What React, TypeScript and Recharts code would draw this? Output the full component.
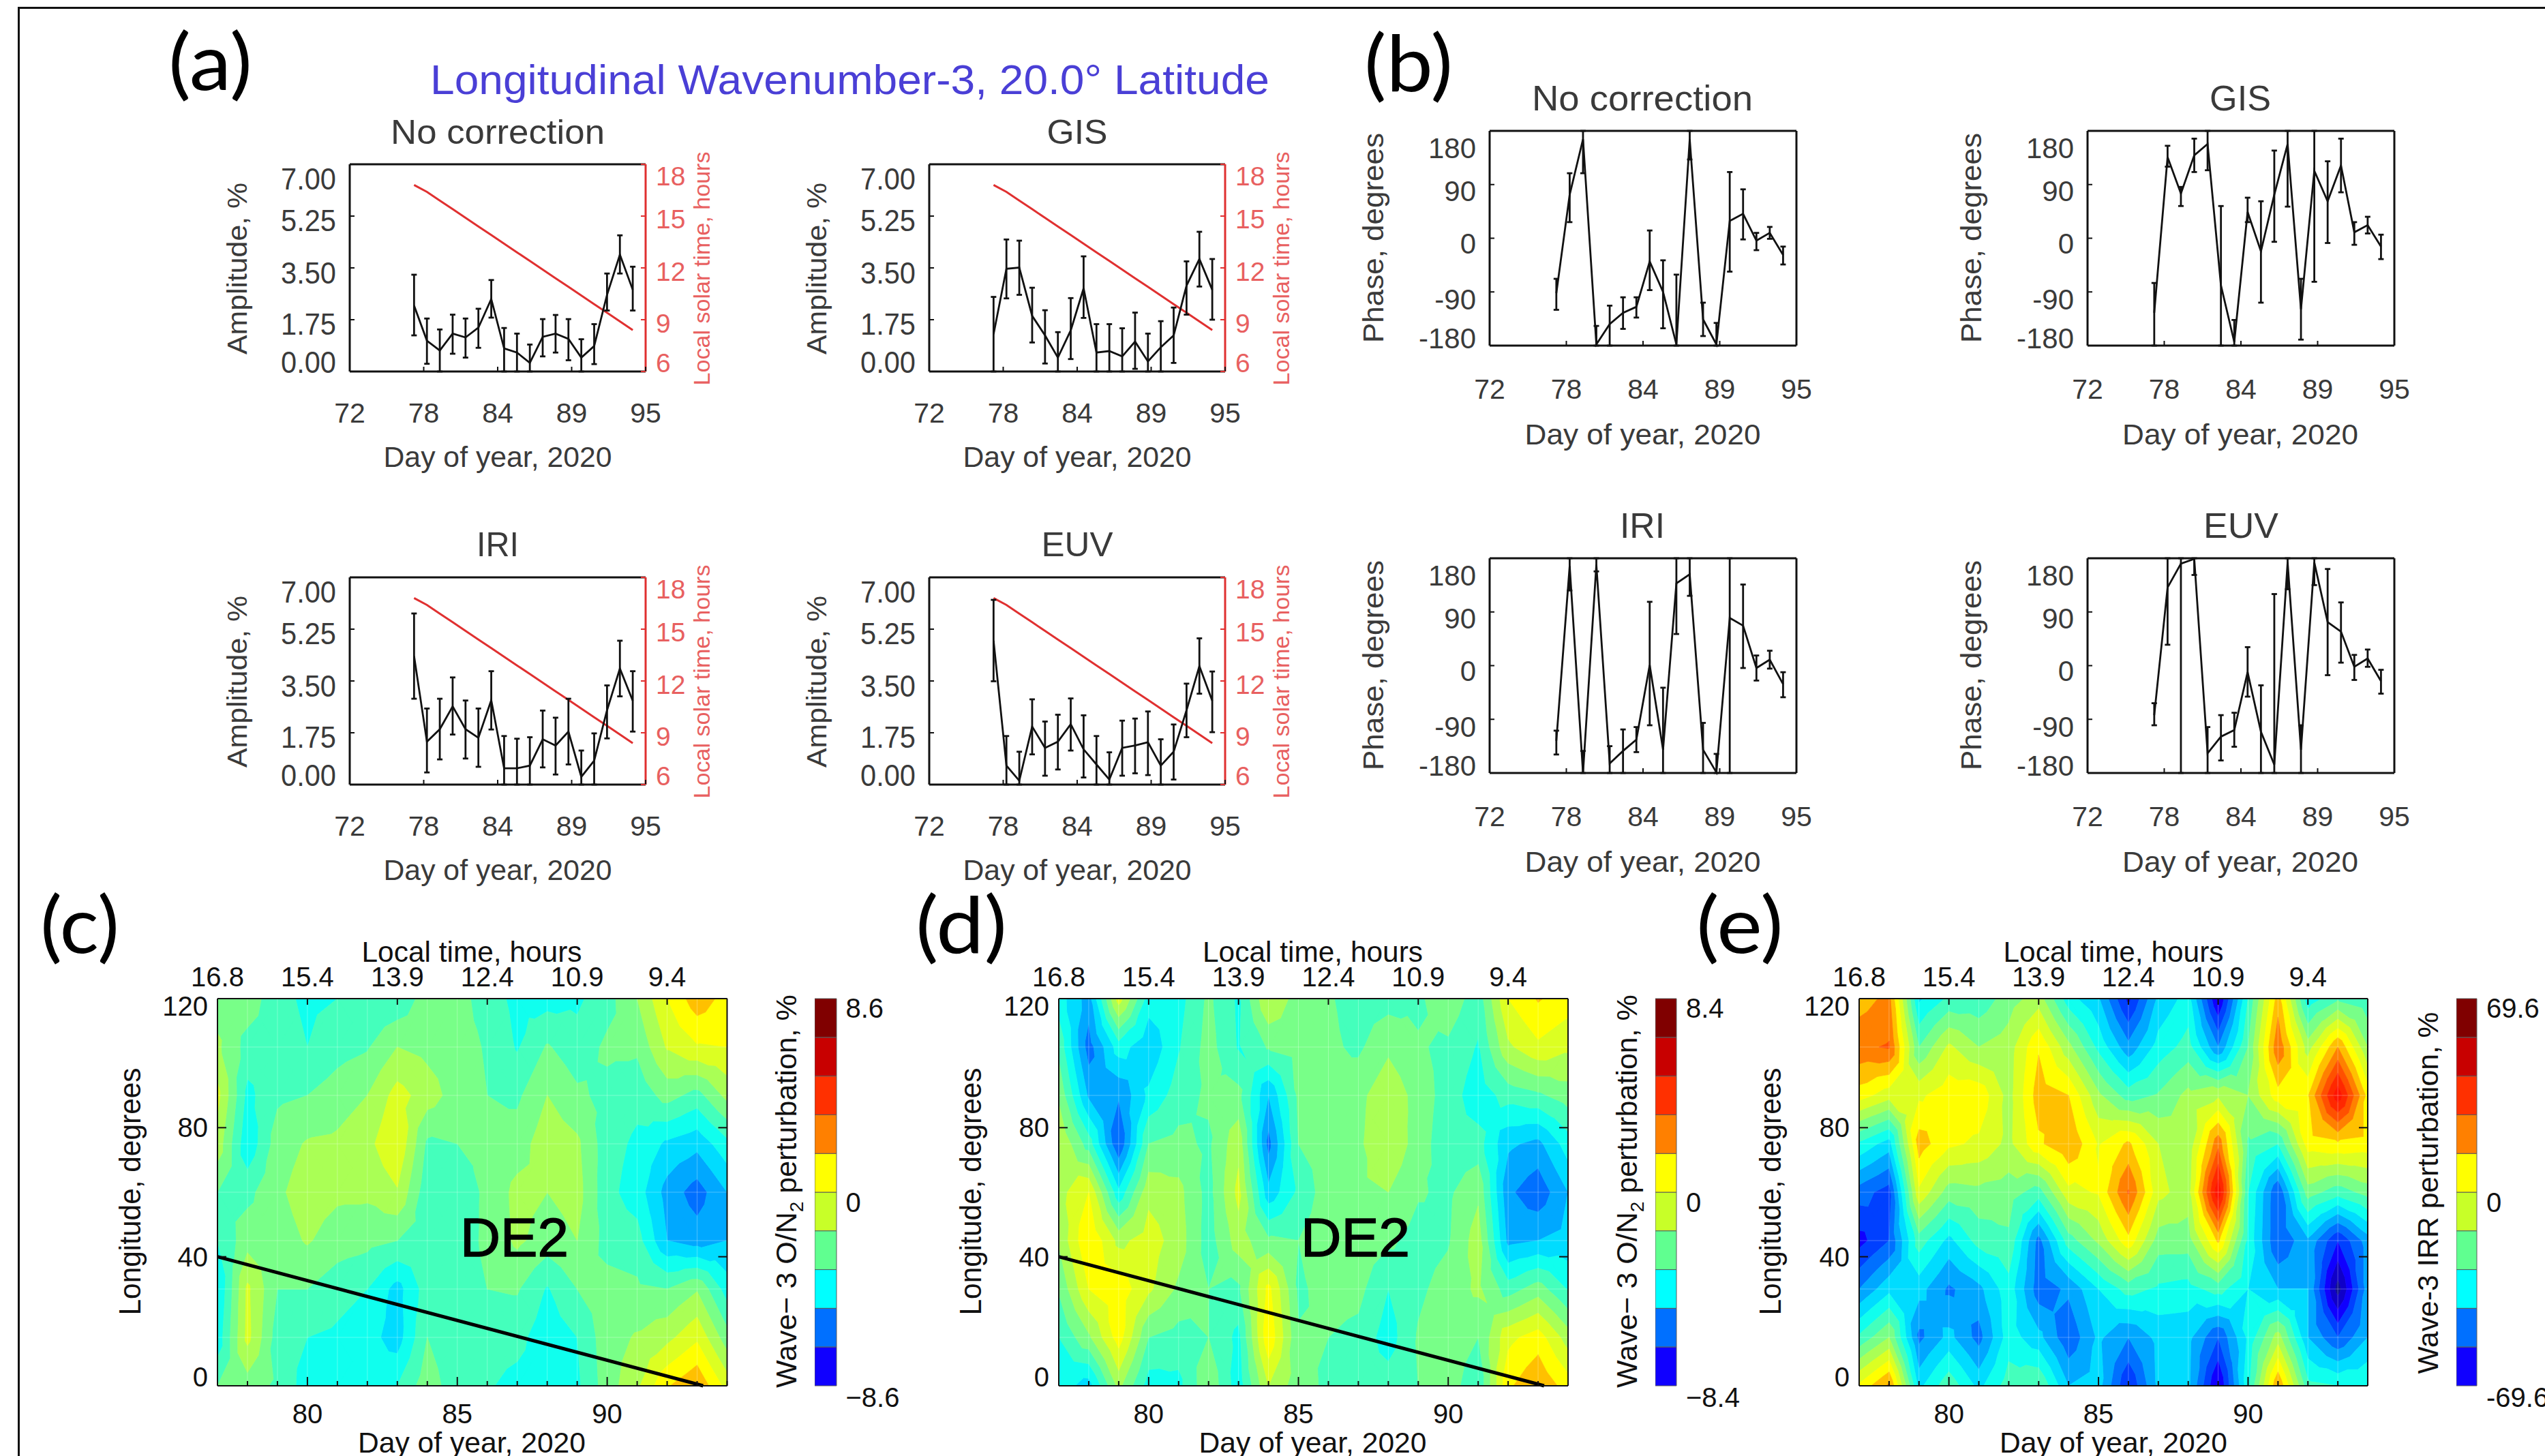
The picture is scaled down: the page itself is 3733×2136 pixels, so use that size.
import React from 'react';
import {
  Bar,
  BarChart,
  CartesianGrid,
  ComposedChart,
  ErrorBar,
  Line,
  ReferenceLine,
  Scatter,
  XAxis,
  YAxis,
} from 'recharts';

const FONT = '"Liberation Sans", Arial, sans-serif';
const INK = '#3a3a3a';
const RED = '#e03030';
const RED_TEXT = '#e86060';

// ---- line panels ----------------------------------------------------------
const days = [77, 78, 79, 80, 81, 82, 83, 84, 85, 86, 87, 88, 89, 90, 91, 92, 93, 94];
const dayTicks = [72, 77.75, 83.5, 89.25, 95];
const dayTickLabels = ['72', '78', '84', '89', '95'];
const amplitudeTicks = [0, 1.75, 3.5, 5.25, 7];
const amplitudeTickLabels = ['0.00', '1.75', '3.50', '5.25', '7.00'];
const solarTimeTicks = [6, 9, 12, 15, 18];
const phaseTicks = [-180, -90, 0, 90, 180];

const solarTime = [16.8, 16.4, 15.9, 15.4, 14.9, 14.4, 13.9, 13.4, 12.9, 12.4, 11.9, 11.4, 10.9, 10.4, 9.9, 9.4, 8.9, 8.4];

const ampNone = [2.23, 1.04, 0.71, 1.28, 1.15, 1.48, 2.45, 0.78, 0.64, 0.29, 1.17, 1.28, 1.1, 0.47, 0.86, 2.59, 3.95, 2.76];
const ampNoneHigh = [3.27, 1.79, 1.42, 1.92, 1.79, 2.12, 3.09, 1.47, 1.28, 0.91, 1.77, 1.91, 1.77, 1.09, 1.6, 3.31, 4.6, 3.54];
const ampNoneLow = [1.22, 0.26, 0, 0.6, 0.47, 0.8, 1.82, 0, 0, 0, 0.51, 0.64, 0.38, 0, 0.25, 2.06, 3.31, 2.06];

const ampGis = [1.26, 3.47, 3.51, 1.88, 1.22, 0.47, 1.39, 2.81, 0.64, 0.69, 0.51, 1.01, 0.34, 0.82, 1.22, 2.9, 3.8, 2.76];
const ampGisHigh = [2.52, 4.46, 4.42, 2.83, 2.07, 1.33, 2.48, 3.89, 1.6, 1.6, 1.46, 1.99, 1.28, 1.7, 2.16, 3.72, 4.72, 3.8];
const ampGisLow = [0, 2.47, 2.59, 0.98, 0.27, 0, 0.42, 1.81, 0, 0, 0, 0.09, 0, 0, 0.29, 1.92, 2.87, 1.75];

const ampIri = [4.34, 1.45, 1.87, 2.64, 1.87, 1.58, 2.85, 0.55, 0.55, 0.64, 1.53, 1.32, 1.79, 0.26, 0.81, 2.51, 3.92, 2.83];
const ampIriHigh = [5.78, 2.57, 2.9, 3.62, 2.84, 2.57, 3.83, 1.64, 1.55, 1.6, 2.5, 2.26, 2.9, 1.15, 1.73, 3.35, 4.86, 3.83];
const ampIriLow = [2.9, 0.41, 0.85, 1.69, 0.88, 0.6, 1.86, 0, 0, 0, 0.58, 0.34, 0.68, 0, 0, 1.56, 2.98, 1.79];

const ampEuv = [4.86, 0.64, 0.13, 1.96, 1.24, 1.45, 2.04, 1.19, 0.68, 0.17, 1.24, 1.32, 1.43, 0.64, 1.11, 2.51, 4.0, 2.83];
const ampEuvHigh = [6.24, 1.64, 1.11, 2.88, 2.13, 2.36, 2.91, 2.34, 1.64, 1.09, 2.16, 2.23, 2.47, 1.53, 2.03, 3.41, 4.94, 3.82];
const ampEuvLow = [3.49, 0, 0, 1.02, 0.3, 0.51, 1.15, 0.24, 0, 0, 0.3, 0.38, 0.32, 0, 0.17, 1.6, 3.07, 1.77];

const phaseNone = [-92, 73, 166, -178, -144, -125, -115, -39, -90, -178, 166, -136, -178, 29, 41, -4, 9, -28];
const phaseNoneHigh = [-68, 109, 180, -147, -113, -99, -99, 13, -37, -61, 180, -108, -142, 111, 82, 9, 19, -14];
const phaseNoneLow = [-120, 27, 109, -180, -180, -152, -133, -87, -151, -180, 132, -164, -180, -56, -2, -20, -1, -44];

const phaseGis = [-125, 136, 75, 139, 158, -79, -174, 44, -22, 73, 158, -119, 113, 62, 122, 10, 22, -14];
const phaseGisHigh = [-75, 155, 86, 167, 180, 54, -137, 68, 62, 147, 180, -68, 180, 129, 167, 27, 36, 6];
const phaseGisLow = [-180, 120, 54, 111, 114, -180, -180, 27, -108, -6, 53, -170, -73, -8, 77, -11, 8, -35];

const phaseIri = [-126, 167, -180, 169, -164, -143, -124, 1, -141, 138, 153, -141, -179, 80, 67, -4, 10, -31];
const phaseIriHigh = [-109, 180, -143, 180, -135, -107, -103, 107, -37, 180, 180, -96, -148, 180, 136, 17, 25, -11];
const phaseIriLow = [-149, 126, -180, 158, -180, -180, -145, -100, -180, 53, 117, -180, -180, -180, -4, -25, -5, -53];

const phaseEuv = [-83, 131, 171, 179, -147, -119, -108, -11, -111, -166, 173, -141, 173, 73, 57, -2, 12, -26];
const phaseEuvHigh = [-63, 180, 180, 180, -103, -83, -79, 31, -33, 120, 180, -100, 180, 162, 106, 18, 27, -7];
const phaseEuvLow = [-100, 35, -180, 152, -180, -159, -136, -52, -180, -180, 128, -180, 135, -16, 5, -24, -2, -47];

// ---- contour panels -------------------------------------------------------
// Values are read off the fill colours, in contour steps (one step = contourStep %).
// One row per longitude (top row = 120), one column per day 77..94.
const gridLongitudes = [120, 105, 90, 75, 60, 45, 30, 15, 0];
const lonTicks = [0, 40, 80, 120];
const localTimeDays = [77, 80, 83, 86, 89, 92];
const localTimeLabels = ['16.8', '15.4', '13.9', '12.4', '10.9', '9.4'];

const oN2GridC = [
  [-1.5, -1.4, -2.7, -3.2, -3.0, -2.9, -2.8, -1.5, -1.6, -2.5, -3.3, -3.4, -3.2, -2.4, -1.0, 1.0, 2.6, 1.6],
  [-0.8, -2.4, -2.5, -3.0, -2.4, -2.1, -1.0, -1.3, -1.6, -2.1, -3.1, -1.9, -2.6, -1.8, -1.8, 0.1, 0.9, 1.0],
  [0.3, -3.3, -2.2, -2.0, -1.5, -1.0, 0.4, -0.5, -1.5, -2.0, -2.2, -1.0, -1.8, -2.3, -2.7, -1.6, -2.4, -0.7],
  [-0.4, -3.8, -1.5, -0.9, -0.8, -0.3, 0.9, -2.2, -2.0, -1.7, -1.5, -0.4, -0.8, -2.6, -3.2, -4.2, -4.7, -3.3],
  [-2.0, -2.3, -1.2, -0.5, -0.8, -0.8, -0.1, -2.7, -2.6, -1.8, -0.7, -1.0, -0.6, -2.7, -3.5, -5.4, -6.5, -5.0],
  [-3.0, -1.4, -1.5, -0.9, -1.5, -1.7, -2.0, -2.6, -2.5, -1.8, -0.8, -1.5, -1.0, -2.4, -2.6, -5.0, -5.5, -5.0],
  [-4.1, 0.2, -2.0, -2.0, -2.6, -3.0, -4.4, -2.5, -2.5, -2.0, -1.9, -3.1, -2.0, -1.6, -1.8, -2.0, -1.1, -3.5],
  [-3.7, 0.3, -2.5, -3.0, -3.2, -3.6, -4.5, -2.0, -2.9, -2.6, -2.7, -3.6, -3.0, -1.4, -0.9, -0.3, 0.8, -1.6],
  [-2.0, -1.5, -2.2, -3.5, -3.4, -3.5, -3.0, -1.4, -2.7, -2.9, -3.3, -3.5, -3.2, -1.5, -0.2, 1.9, 2.9, 0.6],
];

const oN2GridD = [
  [-3.5, -5.5, 0.5, -3.5, -3.4, -1.8, -3.2, 0.0, -1.5, -1.9, -2.4, -2.4, -2.2, -1.3, -2.6, 1.0, 2.1, 1.5],
  [-2.3, -6.5, -3.5, -4.8, -3.1, -1.6, -3.1, -1.9, -1.6, -1.8, -2.2, -1.2, -1.9, -2.2, -3.1, -0.2, 0.8, 0.2],
  [-1.2, -5.2, -5.9, -3.8, -2.5, -1.8, -1.7, -5.0, -1.8, -1.7, -1.3, -0.3, -1.4, -2.5, -3.6, -2.6, -2.2, -1.5],
  [0.0, -2.5, -7.0, -2.0, -1.7, -2.2, -0.3, -6.4, -2.0, -1.6, -1.2, -0.1, -1.5, -2.7, -2.6, -4.8, -5.3, -3.5],
  [-0.4, 1.0, -3.8, -0.3, -0.7, -2.4, 0.3, -4.7, -2.8, -1.4, -1.2, -1.0, -1.9, -2.2, -1.2, -5.8, -6.7, -5.0],
  [-0.9, 2.0, -0.3, 0.5, -0.5, -2.5, -0.5, -1.8, -2.0, -1.3, -1.5, -1.8, -2.4, -2.1, -0.5, -5.3, -5.0, -4.7],
  [-1.9, 1.0, 1.6, 0.2, -1.2, -2.0, -2.2, 1.3, -2.2, -1.6, -1.7, -3.0, -2.2, -1.6, -0.8, -2.5, -1.5, -3.1],
  [-3.0, -1.2, 1.5, -2.0, -2.4, -2.0, -3.3, 1.8, -1.9, -2.0, -2.3, -3.5, -1.9, -1.3, -2.0, 0.7, 1.5, -0.5],
  [-3.4, -4.5, -0.7, -3.5, -3.3, -1.2, -3.6, 0.0, -1.6, -2.2, -2.5, -2.5, -2.0, -1.4, -2.9, 1.8, 2.9, 1.5],
];

const irrGridE = [
  [2.5, 3.3, -4.2, -2.8, -2.7, -1.5, -0.5, -3.6, -4.9, -8.3, -4.8, -3.6, -9.2, -3.0, 2.5, -3.7, -2.2, -2.8],
  [3.8, 4.1, -2.0, 0.2, -1.0, -0.5, 1.9, -0.7, -3.3, -5.7, -3.6, -2.6, -6.0, -2.0, 3.8, -0.5, 3.0, -1.0],
  [1.5, 0.4, 0.8, 1.6, 1.7, -0.4, 2.5, 2.0, -0.8, -2.5, -1.9, -0.7, -0.2, -1.0, 1.6, 1.9, 6.7, 1.6],
  [-3.2, -4.5, 2.5, 1.2, 0.8, -0.3, 1.8, 2.9, 0.9, 2.2, 0.0, -0.8, 3.7, -2.2, -3.0, 1.5, 1.8, 1.6],
  [-6.5, -7.5, 0.8, -1.5, -1.3, -1.5, -2.5, 0.7, 1.1, 4.1, 0.3, -0.5, 6.8, -3.0, -7.0, -1.5, -2.6, -1.6],
  [-8.4, -7.0, -2.5, -4.3, -2.6, -2.2, -6.4, -2.5, -0.8, 1.7, -1.5, -1.5, 2.2, -3.3, -7.0, -5.2, -8.0, -5.5],
  [-6.0, -4.3, -4.6, -6.2, -5.3, -3.4, -6.6, -5.8, -4.0, -2.6, -3.2, -3.4, -2.6, -4.0, -5.0, -5.0, -10.5, -5.5],
  [-2.8, -1.0, -6.3, -4.7, -6.4, -3.5, -4.7, -6.8, -4.8, -6.0, -4.7, -4.7, -7.0, -3.8, -0.5, -5.0, -7.0, -5.0],
  [1.2, 3.2, -4.3, -2.3, -4.3, -2.5, -2.0, -5.0, -4.6, -8.0, -4.8, -4.8, -9.2, -3.3, 3.0, -2.7, -3.0, -3.0],
];

// Fill colour of every contour step, lowest first; the first band starts at -11 steps.
const lowestBand = -11;
const bandColors = [
  '#101090', '#1000c8', '#1000ff', '#0040ff', '#0070ff', '#00a8ff', '#00dcff', '#10ffee', '#44ffbc',
  '#78ff88', '#aaff55', '#dcff22', '#ffff00', '#ffc000', '#ff8000', '#ff5000', '#ff2800', '#ff1400',
];

const colorbarBelowZero = ['#c8ff28', '#60ff90', '#00ffff', '#0070ff', '#1000ff'];
const colorbarAboveZero = ['#ffff00', '#ff8000', '#ff3000', '#c80000', '#800000'];

// ---- panel layout ---------------------------------------------------------
const amplitudePanels = [
  { title: 'No correction', x: 513, y: 241, values: ampNone, high: ampNoneHigh, low: ampNoneLow },
  { title: 'GIS', x: 1363, y: 241, values: ampGis, high: ampGisHigh, low: ampGisLow },
  { title: 'IRI', x: 513, y: 846.5, values: ampIri, high: ampIriHigh, low: ampIriLow },
  { title: 'EUV', x: 1363, y: 846.5, values: ampEuv, high: ampEuvHigh, low: ampEuvLow },
];

const phasePanels = [
  { title: 'No correction', x: 2184.5, y: 191.5, values: phaseNone, high: phaseNoneHigh, low: phaseNoneLow },
  { title: 'GIS', x: 3062, y: 191.5, values: phaseGis, high: phaseGisHigh, low: phaseGisLow },
  { title: 'IRI', x: 2184.5, y: 819, values: phaseIri, high: phaseIriHigh, low: phaseIriLow },
  { title: 'EUV', x: 3062, y: 819, values: phaseEuv, high: phaseEuvHigh, low: phaseEuvLow },
];

const contourPanels = [
  { grid: oN2GridC, x: 319, width: 747.5, scale: 8.6, bottomLabel: '\u22128.6', hasTrend: true, barX: 1195, barWidth: 31.5 },
  { grid: oN2GridD, x: 1552.6, width: 747, scale: 8.4, bottomLabel: '\u22128.4', hasTrend: true, barX: 2428, barWidth: 31 },
  { grid: irrGridE, x: 2727, width: 746, scale: 69.6, bottomLabel: '-69.6', hasTrend: false, barX: 3603, barWidth: 30 },
];
const CONTOUR_TOP = 1465;
const CONTOUR_HEIGHT = 568;

// ---- contour geometry -----------------------------------------------------
type Corner = { day: number; lon: number; v: number };

function clipAt(poly: Corner[], level: number, keepAbove: boolean): Corner[] {
  const out: Corner[] = [];
  poly.forEach((a, i) => {
    const b = poly[(i + 1) % poly.length];
    const aIn = keepAbove ? a.v >= level : a.v <= level;
    const bIn = keepAbove ? b.v >= level : b.v <= level;
    if (aIn) out.push(a);
    if (aIn !== bIn) {
      const t = (level - a.v) / (b.v - a.v);
      out.push({ day: a.day + t * (b.day - a.day), lon: a.lon + t * (b.lon - a.lon), v: level });
    }
  });
  return out;
}

// Splits every grid cell in four triangles round its centre and keeps the part of each inside the band.
function bandPolygons(grid: number[][], lo: number, hi: number): Corner[][] {
  const polys: Corner[][] = [];
  for (let r = 0; r < gridLongitudes.length - 1; r++) {
    for (let c = 0; c < days.length - 1; c++) {
      const tl = { day: days[c], lon: gridLongitudes[r], v: grid[r][c] };
      const tr = { day: days[c + 1], lon: gridLongitudes[r], v: grid[r][c + 1] };
      const bl = { day: days[c], lon: gridLongitudes[r + 1], v: grid[r + 1][c] };
      const br = { day: days[c + 1], lon: gridLongitudes[r + 1], v: grid[r + 1][c + 1] };
      const mid = {
        day: (tl.day + tr.day) / 2,
        lon: (tl.lon + bl.lon) / 2,
        v: (tl.v + tr.v + bl.v + br.v) / 4,
      };
      [[tl, tr, mid], [tr, br, mid], [br, bl, mid], [bl, tl, mid]].forEach((tri) => {
        const clipped = clipAt(clipAt(tri, lo, true), hi, false);
        if (clipped.length > 2) polys.push(clipped);
      });
    }
  }
  return polys;
}

function polygonsPath(points: { x: number; y: number }[], polys: Corner[][]): string {
  let d = '';
  let at = 0;
  polys.forEach((poly) => {
    const part = points.slice(at, at + poly.length);
    d += `M${part.map((p) => `${p.x.toFixed(1)},${p.y.toFixed(1)}`).join('L')}Z`;
    at += poly.length;
  });
  return d;
}

function ContourPanel({ panel }: { panel: (typeof contourPanels)[number] }) {
  const left = 110;
  const top = 70;
  const right = 12;
  const bottom = 62;
  const bands = bandColors.map((color, i) => ({
    color,
    polys: bandPolygons(panel.grid, lowestBand + i, lowestBand + i + 1),
  }));
  return (
    <div style={{ position: 'absolute', left: panel.x - left, top: CONTOUR_TOP - top }}>
      <ComposedChart
        width={panel.width + left + right}
        height={CONTOUR_HEIGHT + top + bottom}
        data={days.map((day) => ({ day, lon: 0 }))}
        margin={{ top: 0, right: 0, bottom: 0, left: 0 }}
      >
        {bands
          .filter((band) => band.polys.length > 0)
          .map((band) => (
            <Scatter
              key={band.color}
              data={band.polys.flat()}
              dataKey="lon"
              zIndex={50}
              isAnimationActive={false}
              shape={() => null}
              lineType="joint"
              line={(p: any) => (
                <path d={polygonsPath(p.points, band.polys)} fill={band.color} stroke={band.color} strokeWidth={0.8} />
              )}
            />
          ))}
        <CartesianGrid
          zIndex={60}
          stroke="#ffffff"
          strokeOpacity={0.3}
          verticalValues={days}
          horizontalValues={gridLongitudes}
        />
        {panel.hasTrend && (
          <ReferenceLine
            segment={[
              { x: 77, y: 40 },
              { x: 93.2, y: 0 },
            ]}
            stroke="#000"
            strokeWidth={5}
          />
        )}
        <XAxis
          dataKey="day"
          type="number"
          domain={[77, 94]}
          ticks={days}
          interval={0}
          height={bottom}
          tickLine={false}
          tickSize={0}
          tickMargin={0}
          axisLine={{ stroke: '#111', strokeWidth: 2 }}
          tick={(p: any) => {
            const major = p.payload.value % 5 === 0;
            return (
              <g>
                <line x1={p.x} x2={p.x} y1={p.y} y2={p.y - (major ? 13 : 7)} stroke="#111" strokeWidth={2} />
                {major && (
                  <text x={p.x} y={p.y + 55} textAnchor="middle" fontSize={40} fontFamily={FONT} fill="#111">
                    {p.payload.value}
                  </text>
                )}
              </g>
            );
          }}
        />
        <XAxis
          xAxisId="top"
          dataKey="day"
          orientation="top"
          type="number"
          domain={[77, 94]}
          ticks={localTimeDays}
          interval={0}
          height={top}
          tickLine={false}
          tickSize={0}
          tickMargin={0}
          axisLine={{ stroke: '#111', strokeWidth: 2 }}
          tick={(p: any) => (
            <g>
              <line x1={p.x} x2={p.x} y1={p.y} y2={p.y + 9} stroke="#111" strokeWidth={2} />
              <text x={p.x} y={p.y - 18} textAnchor="middle" fontSize={40} fontFamily={FONT} fill="#111">
                {localTimeLabels[p.index]}
              </text>
            </g>
          )}
        />
        <YAxis
          dataKey="lon"
          type="number"
          domain={[0, 120]}
          ticks={lonTicks}
          interval={0}
          width={left}
          tickLine={false}
          tickSize={0}
          tickMargin={0}
          axisLine={{ stroke: '#111', strokeWidth: 2 }}
          tick={(p: any) => (
            <g>
              <line x1={p.x} x2={p.x + 13} y1={p.y} y2={p.y} stroke="#111" strokeWidth={2} />
              <text
                x={p.x - 14}
                y={p.y + [-13, 0, 0, 11][p.index] + 14}
                textAnchor="end"
                fontSize={40}
                fontFamily={FONT}
                fill="#111"
              >
                {p.payload.value}
              </text>
            </g>
          )}
        />
        <YAxis
          yAxisId="right"
          dataKey="lon"
          orientation="right"
          type="number"
          domain={[0, 120]}
          ticks={lonTicks}
          interval={0}
          width={right}
          tickLine={false}
          tickSize={0}
          tickMargin={0}
          axisLine={{ stroke: '#111', strokeWidth: 2 }}
          tick={(p: any) => <line x1={p.x} x2={p.x - 13} y1={p.y} y2={p.y} stroke="#111" strokeWidth={2} />}
        />
      </ComposedChart>
    </div>
  );
}

function Colorbar({ panel }: { panel: (typeof contourPanels)[number] }) {
  const right = 140;
  const pad = 12;
  const size = panel.scale / 5;
  const row: Record<string, number | string> = { name: 'scale' };
  colorbarBelowZero.forEach((_, i) => {
    row[`below${i}`] = -size;
    row[`above${i}`] = size;
  });
  const labels = [panel.bottomLabel, '0', String(panel.scale)];
  return (
    <div style={{ position: 'absolute', left: panel.barX, top: CONTOUR_TOP - pad }}>
      <BarChart
        width={panel.barWidth + right}
        height={CONTOUR_HEIGHT + 50 + pad}
        data={[row]}
        stackOffset="sign"
        barCategoryGap={0}
        margin={{ top: pad, right: 0, bottom: 50, left: 0 }}
      >
        <XAxis dataKey="name" hide />
        <YAxis
          orientation="right"
          type="number"
          domain={[-panel.scale, panel.scale]}
          ticks={[-panel.scale, 0, panel.scale]}
          interval={0}
          width={right}
          axisLine={false}
          tickLine={false}
          tickSize={0}
          tickMargin={0}
          tick={(p: any) => (
            <text
              x={p.x + 14}
              y={p.y + [17, 15, 14][p.index] + 14}
              textAnchor="start"
              fontSize={40}
              fontFamily={FONT}
              fill="#111"
            >
              {labels[p.index]}
            </text>
          )}
        />
        {colorbarBelowZero.map((color, i) => (
          <Bar key={color} dataKey={`below${i}`} stackId="scale" fill={color} stroke="#5a5a5a" strokeWidth={1} isAnimationActive={false} />
        ))}
        {colorbarAboveZero.map((color, i) => (
          <Bar key={color} dataKey={`above${i}`} stackId="scale" fill={color} stroke="#5a5a5a" strokeWidth={1} isAnimationActive={false} />
        ))}
      </BarChart>
    </div>
  );
}

// ---- line charts ----------------------------------------------------------
function toRows(values: number[], high: number[], low: number[]) {
  return days.map((day, i) => ({
    day,
    value: values[i],
    err: [values[i] - low[i], high[i] - values[i]],
    lst: solarTime[i],
  }));
}

function LeftTick(p: any) {
  return (
    <g>
      <line x1={p.x} x2={p.x + 7} y1={p.y} y2={p.y} stroke="#111" strokeWidth={2} />
      <text
        x={p.x - 20}
        y={p.y + p.nudge[p.index] + 16}
        textAnchor="end"
        fontSize={p.size}
        fontFamily={FONT}
        fill={INK}
        textLength={p.squeeze}
        lengthAdjust="spacingAndGlyphs"
      >
        {p.labels ? p.labels[p.index] : p.payload.value}
      </text>
    </g>
  );
}

function BottomTick(p: any) {
  return (
    <g>
      <line x1={p.x} x2={p.x} y1={p.y} y2={p.y - 7} stroke="#111" strokeWidth={2} />
      <text x={p.x} y={p.y + p.drop} textAnchor="middle" fontSize={41} fontFamily={FONT} fill={INK}>
        {dayTickLabels[p.index]}
      </text>
    </g>
  );
}

function TopTick(p: any) {
  return <line x1={p.x} x2={p.x} y1={p.y} y2={p.y + 7} stroke="#111" strokeWidth={2} />;
}

function AmplitudeChart({ panel }: { panel: (typeof amplitudePanels)[number] }) {
  const left = 110;
  const right = 70;
  const top = 10;
  const bottom = 90;
  const width = 434;
  const height = 304;
  return (
    <div style={{ position: 'absolute', left: panel.x - left, top: panel.y - top }}>
      <ComposedChart
        width={width + left + right}
        height={height + top + bottom}
        data={toRows(panel.values, panel.high, panel.low)}
        margin={{ top: 0, right: 0, bottom: 0, left: 0 }}
      >
        <XAxis
          dataKey="day"
          type="number"
          domain={[72, 95]}
          ticks={dayTicks}
          interval={0}
          height={bottom}
          tickLine={false}
          tickSize={0}
          tickMargin={0}
          axisLine={{ stroke: '#111', strokeWidth: 3 }}
          tick={(p: any) => <BottomTick {...p} drop={75} />}
        />
        <XAxis
          xAxisId="top"
          orientation="top"
          type="number"
          domain={[72, 95]}
          ticks={dayTicks}
          interval={0}
          height={top}
          tickLine={false}
          tickSize={0}
          tickMargin={0}
          axisLine={{ stroke: '#111', strokeWidth: 3 }}
          tick={(p: any) => <TopTick {...p} />}
        />
        <YAxis
          yAxisId="amplitude"
          type="number"
          domain={[0, 7]}
          ticks={amplitudeTicks}
          interval={0}
          width={left}
          tickLine={false}
          tickSize={0}
          tickMargin={0}
          axisLine={{ stroke: '#111', strokeWidth: 3 }}
          tick={(p: any) => (
            <LeftTick {...p} size={45} squeeze={81} labels={amplitudeTickLabels} nudge={[-14, 6, 7, 6, 21]} />
          )}
        />
        <YAxis
          yAxisId="lst"
          orientation="right"
          type="number"
          domain={[6, 18]}
          ticks={solarTimeTicks}
          interval={0}
          width={right}
          tickLine={false}
          tickSize={0}
          tickMargin={0}
          axisLine={{ stroke: RED, strokeWidth: 3 }}
          tick={(p: any) => (
            <g>
              <line x1={p.x} x2={p.x - 7} y1={p.y} y2={p.y} stroke={RED} strokeWidth={2} />
              <text
                x={p.x + 15}
                y={p.y + [-13, 5, 5, 4, 17][p.index] + 14}
                textAnchor="start"
                fontSize={39}
                fontFamily={FONT}
                fill={RED_TEXT}
              >
                {p.payload.value}
              </text>
            </g>
          )}
        />
        <Line
          yAxisId="lst"
          dataKey="lst"
          stroke={RED}
          strokeWidth={3}
          dot={false}
          isAnimationActive={false}
        />
        <Line
          yAxisId="amplitude"
          dataKey="value"
          stroke="#111"
          strokeWidth={2.8}
          dot={false}
          isAnimationActive={false}
        >
          <ErrorBar dataKey="err" width={4} stroke="#111" strokeWidth={2.8} isAnimationActive={false} />
        </Line>
      </ComposedChart>
    </div>
  );
}

function PhaseChart({ panel }: { panel: (typeof phasePanels)[number] }) {
  const left = 110;
  const right = 50;
  const top = 10;
  const bottom = 90;
  const width = 450;
  const height = 315;
  return (
    <div style={{ position: 'absolute', left: panel.x - left, top: panel.y - top }}>
      <ComposedChart
        width={width + left + right}
        height={height + top + bottom}
        data={toRows(panel.values, panel.high, panel.low)}
        margin={{ top: 0, right: 0, bottom: 0, left: 0 }}
      >
        <XAxis
          dataKey="day"
          type="number"
          domain={[72, 95]}
          ticks={dayTicks}
          interval={0}
          height={bottom}
          tickLine={false}
          tickSize={0}
          tickMargin={0}
          axisLine={{ stroke: '#111', strokeWidth: 3 }}
          tick={(p: any) => <BottomTick {...p} drop={78} />}
        />
        <XAxis
          xAxisId="top"
          orientation="top"
          type="number"
          domain={[72, 95]}
          ticks={dayTicks}
          interval={0}
          height={top}
          tickLine={false}
          tickSize={0}
          tickMargin={0}
          axisLine={{ stroke: '#111', strokeWidth: 3 }}
          tick={(p: any) => <TopTick {...p} />}
        />
        <YAxis
          yAxisId="phase"
          type="number"
          domain={[-180, 180]}
          ticks={phaseTicks}
          interval={0}
          width={left}
          tickLine={false}
          tickSize={0}
          tickMargin={0}
          axisLine={{ stroke: '#111', strokeWidth: 3 }}
          tick={(p: any) => <LeftTick {...p} size={42} nudge={[-12, 10, 6, 8, 24]} />}
        />
        <YAxis
          yAxisId="phaseRight"
          orientation="right"
          type="number"
          domain={[-180, 180]}
          ticks={phaseTicks}
          interval={0}
          width={right}
          tickLine={false}
          tickSize={0}
          tickMargin={0}
          axisLine={{ stroke: '#111', strokeWidth: 3 }}
          tick={(p: any) => <line x1={p.x} x2={p.x - 7} y1={p.y} y2={p.y} stroke="#111" strokeWidth={2} />}
        />
        <Line
          yAxisId="phase"
          dataKey="value"
          stroke="#111"
          strokeWidth={2.8}
          dot={false}
          isAnimationActive={false}
        >
          <ErrorBar dataKey="err" width={4} stroke="#111" strokeWidth={2.8} isAnimationActive={false} />
        </Line>
      </ComposedChart>
    </div>
  );
}

// ---- free text ------------------------------------------------------------
function Caption(props: {
  x: number;
  y: number;
  text: string;
  size: number;
  width?: number;
  fill?: string;
  vertical?: boolean;
  font?: string;
  anchor?: 'start' | 'middle';
  heavy?: boolean;
}) {
  const { x, y, text, size, width, fill = INK, vertical, font = FONT, anchor = 'middle', heavy } = props;
  return (
    <text
      x={x}
      y={y}
      fontSize={size}
      fontFamily={font}
      fill={fill}
      stroke={heavy ? fill : undefined}
      strokeWidth={heavy ? 1.5 : undefined}
      textAnchor={anchor}
      textLength={width}
      lengthAdjust={width ? 'spacingAndGlyphs' : undefined}
      transform={vertical ? `rotate(-90 ${x} ${y})` : undefined}
    >
      {text}
    </text>
  );
}

function Overlay() {
  return (
    <svg width={3733} height={2136} style={{ position: 'absolute', left: 0, top: 0, pointerEvents: 'none' }}>
      <Caption x={631} y={138} anchor="start" width={1231} size={62} fill="#4a3fd6" text={'Longitudinal Wavenumber-3, 20.0\u00b0 Latitude'} />

      <Caption x={247} y={132} anchor="start" width={123} size={114} fill="#000" font="Lato" text="(a)" />
      <Caption x={2001} y={134} anchor="start" width={130} size={114} fill="#000" font="Lato" text="(b)" />
      <Caption x={59} y={1398} anchor="start" width={116} size={114} fill="#000" font="Lato" text="(c)" />
      <Caption x={1343} y={1398} anchor="start" width={134} size={114} fill="#000" font="Lato" text="(d)" />
      <Caption x={2488} y={1398} anchor="start" width={128} size={114} fill="#000" font="Lato" text="(e)" />

      {/* amplitude panels */}
      <Caption x={730} y={210.5} size={50} width={314} text="No correction" />
      <Caption x={1580} y={210.5} size={50} width={89} text="GIS" />
      <Caption x={730} y={816} size={50} width={62} text="IRI" />
      <Caption x={1580} y={816} size={50} width={105} text="EUV" />
      {[[362, 394], [1212, 394], [362, 1000], [1212, 1000]].map(([x, y]) => (
        <Caption key={`amp${x}${y}`} x={x} y={y} size={41} width={252} vertical text="Amplitude,  %" />
      ))}
      {[[1041, 394], [1891, 394], [1041, 1000], [1891, 1000]].map(([x, y]) => (
        <Caption key={`lst${x}${y}`} x={x} y={y} size={33} width={343} vertical fill={RED_TEXT} text="Local solar time, hours" />
      ))}
      {[[730, 685], [1580, 685], [730, 1291], [1580, 1291]].map(([x, y]) => (
        <Caption key={`doy${x}${y}`} x={x} y={y} size={42} width={335} text="Day of year, 2020" />
      ))}

      {/* phase panels */}
      <Caption x={2409} y={162} size={52} width={324} text="No correction" />
      <Caption x={3286} y={162} size={52} width={90} text="GIS" />
      <Caption x={2409} y={788.5} size={52} width={66} text="IRI" />
      <Caption x={3287} y={788.5} size={52} width={110} text="EUV" />
      {[[2029, 349], [2906, 349], [2029, 976], [2906, 976]].map(([x, y]) => (
        <Caption key={`pha${x}${y}`} x={x} y={y} size={43} width={308} vertical text="Phase,  degrees" />
      ))}
      {[[2409.5, 652], [3286, 652], [2409.5, 1278.5], [3286, 1278.5]].map(([x, y]) => (
        <Caption key={`dop${x}${y}`} x={x} y={y} size={43} width={346} text="Day of year, 2020" />
      ))}

      {/* contour panels */}
      {[692, 1925.5, 3100].map((x) => (
        <g key={`ct${x}`}>
          <Caption x={x} y={1411} size={42} width={323} fill="#111" text="Local time, hours" />
          <Caption x={x} y={2131} size={42} width={334} fill="#111" text="Day of year, 2020" />
        </g>
      ))}
      {[206, 1438.6, 2612].map((x) => (
        <Caption key={`lon${x}`} x={x} y={1748} size={44} width={363} vertical fill="#111" text="Longitude, degrees" />
      ))}
      {[1167.7, 2400.6].map((x) => (
        <text
          key={`wave${x}`}
          x={x}
          y={2036}
          fontSize={43}
          fontFamily={FONT}
          fill="#111"
          transform={`rotate(-90 ${x} 2036)`}
        >
          Wave{'\u2212'} 3 O/N
          <tspan fontSize={28} dy={10}>2</tspan>
          <tspan dy={-10}> perturbation, %</tspan>
        </text>
      ))}
      <Caption x={3576} y={1750} size={43} width={531} vertical fill="#111" text="Wave-3 IRR perturbation, %" />
      <Caption x={754.5} y={1843} size={80} width={159} fill="#000" heavy text="DE2" />
      <Caption x={1988} y={1843} size={80} width={160} fill="#000" heavy text="DE2" />
    </svg>
  );
}

export default function App() {
  return (
    <div
      style={{
        position: 'absolute',
        left: 0,
        top: 0,
        width: 3733,
        height: 2136,
        overflow: 'hidden',
        background: '#fff',
        fontFamily: FONT,
      }}
    >
      <div
        style={{
          position: 'absolute',
          left: 26,
          top: 10,
          width: 3800,
          height: 2300,
          borderLeft: '3px solid #111',
          borderTop: '3px solid #111',
        }}
      />
      {amplitudePanels.map((panel) => (
        <AmplitudeChart key={`a${panel.x}${panel.y}`} panel={panel} />
      ))}
      {phasePanels.map((panel) => (
        <PhaseChart key={`b${panel.x}${panel.y}`} panel={panel} />
      ))}
      {contourPanels.map((panel) => (
        <React.Fragment key={panel.x}>
          <ContourPanel panel={panel} />
          <Colorbar panel={panel} />
        </React.Fragment>
      ))}
      <Overlay />
    </div>
  );
}
